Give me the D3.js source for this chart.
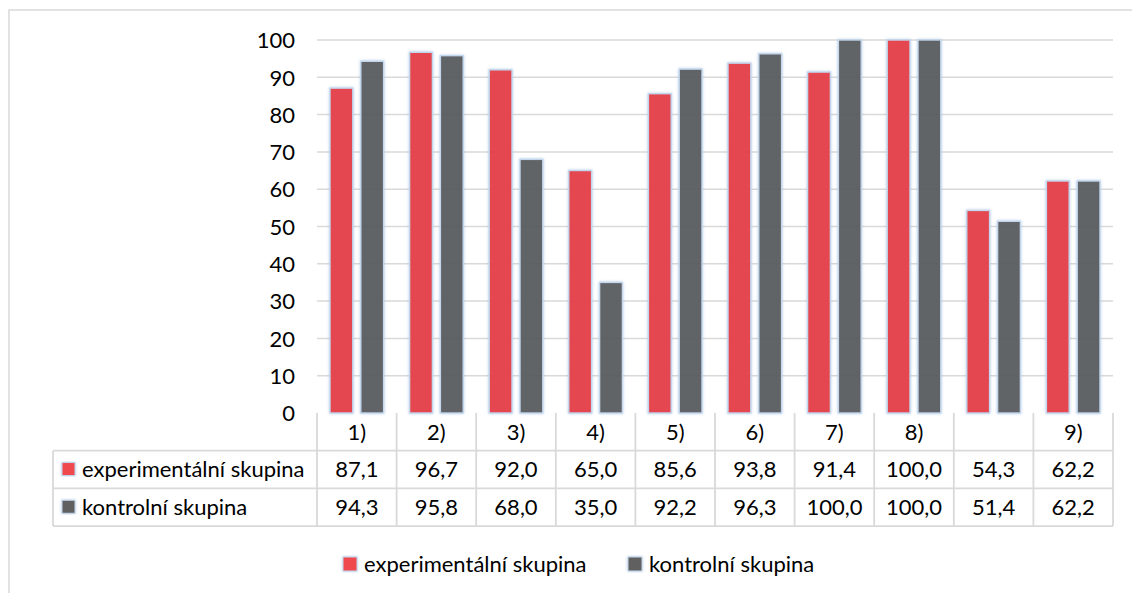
<!DOCTYPE html>
<html>
<head>
<meta charset="utf-8">
<script src="https://cdn.jsdelivr.net/npm/d3@7"></script>
<style>
  html, body { margin: 0; padding: 0; background: #fff; }
  svg { display: block; }
  text { font-family: Lato, "Open Sans", sans-serif; fill: #000; }
</style>
</head>
<body>
<svg id="chart" width="1132" height="593"></svg>
<script>
// Category labels (the ninth column has no label)
const categories = ["1)", "2)", "3)", "4)", "5)", "6)", "7)", "8)", "", "9)"];
const experimental = [87.1, 96.7, 92.0, 65.0, 85.6, 93.8, 91.4, 100.0, 54.3, 62.2];
const control = [94.3, 95.8, 68.0, 35.0, 92.2, 96.3, 100.0, 100.0, 51.4, 62.2];
const seriesNames = ["experimentální skupina", "kontrolní skupina"];
const seriesColors = ["#E6363B", "#585858"];
const keyColors = ["#F04A4E", "#606060"];
const yTicks = [0, 10, 20, 30, 40, 50, 60, 70, 80, 90, 100];

const series = [experimental, control];
const svg = d3.select("#chart");
const gridColor = "#d9d9d9";
const fs = 22;

// Plot geometry
const plot = { left: 317, right: 1113, top: 40, bottom: 413 };
const rowH = 37.7;
const tableLeft = 53;

// Soft blue halo for bars and legend keys
const defs = svg.append("defs");
const f = defs.append("filter").attr("id", "glow")
  .attr("x", "-30%").attr("y", "-10%").attr("width", "160%").attr("height", "120%");
f.append("feDropShadow").attr("dx", 0).attr("dy", 0).attr("stdDeviation", 1.8)
  .attr("flood-color", "#8fb0d6").attr("flood-opacity", 0.6);

// Outer chart frame
svg.append("rect").attr("x", 9).attr("y", 10).attr("width", 1140).attr("height", 600)
  .attr("fill", "none").attr("stroke", gridColor).attr("stroke-width", 1.5);

const x = d3.scaleBand().domain(d3.range(categories.length))
  .range([plot.left, plot.right]).paddingInner(0).paddingOuter(0);
const inner = d3.scaleBand().domain([0, 1]).range([13, x.bandwidth() - 13]).paddingInner(0.26);
const y = d3.scaleLinear().domain([0, 100]).range([plot.bottom, plot.top]);

// Gridlines
svg.append("g").selectAll("line").data(yTicks.filter(t => t > 0)).join("line")
  .attr("x1", plot.left).attr("x2", plot.right)
  .attr("y1", d => y(d)).attr("y2", d => y(d))
  .attr("stroke", gridColor).attr("stroke-width", 1.5);

// Y axis labels
const yAxis = d3.axisLeft(y).tickValues(yTicks).tickSize(0).tickPadding(0);
const ya = svg.append("g").attr("transform", `translate(${295},0)`).call(yAxis);
ya.select(".domain").remove();
ya.selectAll("text").attr("font-size", fs).attr("font-family", "Lato, sans-serif")
  .attr("fill", "#000").attr("dy", "0.35em");

// Bars
series.forEach((vals, si) => {
  svg.append("g").selectAll("rect").data(vals).join("rect")
    .attr("x", (d, i) => x(i) + inner(si))
    .attr("y", d => y(d))
    .attr("width", inner.bandwidth())
    .attr("height", d => y(0) - y(d))
    .attr("fill", seriesColors[si]).attr("fill-opacity", 0.93)
    .attr("stroke", "#c2d7ee").attr("stroke-width", 1.4)
    .attr("filter", "url(#glow)");
});

// Data table
const table = svg.append("g");
const rowsTop = [plot.bottom, plot.bottom + rowH, plot.bottom + 2 * rowH];
const tableBottom = plot.bottom + 3 * rowH;

// Horizontal lines of the value rows
[rowsTop[1], rowsTop[2], tableBottom].forEach(yy => {
  table.append("line").attr("x1", tableLeft).attr("x2", plot.right)
    .attr("y1", yy).attr("y2", yy).attr("stroke", gridColor).attr("stroke-width", 1.8);
});
// Vertical lines of the category columns
d3.range(categories.length + 1).forEach(i => {
  const xx = i < categories.length ? x(i) : plot.right;
  table.append("line").attr("x1", xx).attr("x2", xx)
    .attr("y1", plot.bottom).attr("y2", tableBottom)
    .attr("stroke", gridColor).attr("stroke-width", 1.8);
});
table.append("line").attr("x1", tableLeft).attr("x2", tableLeft)
  .attr("y1", rowsTop[1]).attr("y2", tableBottom)
  .attr("stroke", gridColor).attr("stroke-width", 1.8);

// Header row: category labels
table.append("g").selectAll("text").data(categories).join("text")
  .attr("x", (d, i) => x(i) + x.bandwidth() / 2)
  .attr("y", rowsTop[0] + rowH / 2).attr("dy", "0.35em")
  .attr("text-anchor", "middle").attr("font-size", fs)
  .text(d => d);

const fmt = v => v.toFixed(1).replace(".", ",");
series.forEach((vals, si) => {
  const cy = rowsTop[si + 1] + rowH / 2;
  table.append("rect").attr("x", 62).attr("y", cy - 7).attr("width", 13).attr("height", 13)
    .attr("fill", keyColors[si]).attr("stroke", "#c2d7ee").attr("stroke-width", 1)
    .attr("filter", "url(#glow)");
  table.append("text").attr("x", 82).attr("y", cy).attr("dy", "0.35em")
    .attr("font-size", fs).text(seriesNames[si]);
  table.append("g").selectAll("text").data(vals).join("text")
    .attr("x", (d, i) => x(i) + x.bandwidth() / 2)
    .attr("y", cy).attr("dy", "0.35em")
    .attr("text-anchor", "middle").attr("font-size", fs)
    .text(d => fmt(d));
});

// Legend
const legendY = 563;
const legendItems = [{ x: 343, i: 0 }, { x: 628, i: 1 }];
legendItems.forEach(it => {
  svg.append("rect").attr("x", it.x).attr("y", legendY - 6).attr("width", 14).attr("height", 14)
    .attr("fill", keyColors[it.i]).attr("stroke", "#c2d7ee").attr("stroke-width", 1)
    .attr("filter", "url(#glow)");
  svg.append("text").attr("x", it.x + 21).attr("y", legendY + 1).attr("dy", "0.35em")
    .attr("font-size", fs).text(seriesNames[it.i]);
});
</script>
</body>
</html>
